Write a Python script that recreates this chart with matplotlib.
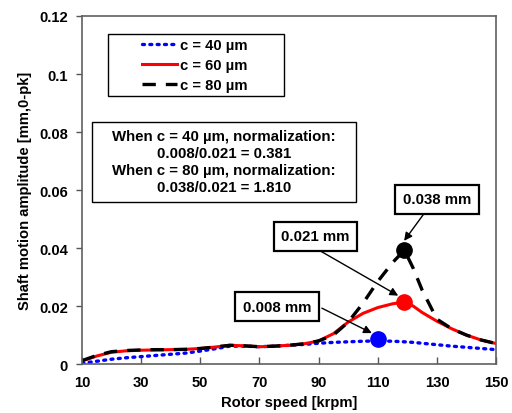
import matplotlib
matplotlib.use("Agg")
import matplotlib.pyplot as plt
from matplotlib.patches import Rectangle

plt.rcParams['font.family'] = ['Liberation Sans', 'DejaVu Sans']
plt.rcParams['font.weight'] = 'bold'

speed = [10, 15, 20, 25, 30, 35, 40, 45, 50, 55, 60, 65, 70, 75, 80, 85, 90,
         95, 100, 105, 110, 115, 119, 122, 125, 130, 135, 140, 145, 150]
amp_c40 = [0.0003, 0.0010, 0.0017, 0.0022, 0.0026, 0.0030, 0.0034, 0.0038, 0.0045,
           0.0053, 0.0062, 0.0062, 0.0060, 0.0062, 0.0065, 0.0068, 0.0072, 0.0075,
           0.0077, 0.0079, 0.0080, 0.0079, 0.0077, 0.0075, 0.0072, 0.0067, 0.0062,
           0.0058, 0.0054, 0.0050]
amp_c60 = [0.0011, 0.0028, 0.0041, 0.0046, 0.0048, 0.0049, 0.0050, 0.0051, 0.0054,
           0.0059, 0.0065, 0.0063, 0.0060, 0.0062, 0.0065, 0.0070, 0.0080, 0.0105,
           0.0145, 0.0175, 0.0195, 0.0208, 0.0214, 0.0200, 0.0178, 0.0148, 0.0122,
           0.0100, 0.0083, 0.0071]
amp_c80 = [0.0012, 0.0030, 0.0043, 0.0047, 0.0049, 0.0050, 0.0050, 0.0051, 0.0054,
           0.0059, 0.0065, 0.0063, 0.0060, 0.0062, 0.0065, 0.0070, 0.0080, 0.0100,
           0.0145, 0.0210, 0.0285, 0.0350, 0.0393, 0.0330, 0.0255, 0.0155, 0.0122,
           0.0100, 0.0083, 0.0071]
labels = ['c = 40 µm', 'c = 60 µm', 'c = 80 µm']
peak_x = [110, 119, 119]
peak_y = [0.0086, 0.0214, 0.0393]
peak_text = ['0.008 mm', '0.021 mm', '0.038 mm']
note_lines = ['When c = 40 µm, normalization:', '0.008/0.021 = 0.381',
              'When c = 80 µm, normalization:', '0.038/0.021 = 1.810']
xticks = [10, 30, 50, 70, 90, 110, 130, 150]
yticks = [0, 0.02, 0.04, 0.06, 0.08, 0.1, 0.12]
ytick_labels = ['0', '0.02', '0.04', '0.06', '0.08', '0.1', '0.12']

FS = 10.6
fig = plt.figure(figsize=(5.12, 4.14), dpi=100)
ax = fig.add_axes([0.160, 0.118, 0.809, 0.841])

l1, = ax.plot(speed, amp_c40, color='#0000ff', lw=2.4, linestyle=(0, (0.6, 1.6)),
              dash_capstyle='round', label=labels[0])
l2, = ax.plot(speed, amp_c60, color='#ff0000', lw=2.2, label=labels[1])
l3, = ax.plot(speed, amp_c80, color='black', lw=2.4, linestyle=(0, (4, 3)), label=labels[2])

colors = ['#0000ff', '#ff0000', 'black']
for x, y, c in zip(peak_x, peak_y, colors):
    ax.plot([x], [y], 'o', color=c, ms=11, zorder=5)

ax.set_xlim(10, 150)
ax.set_ylim(0, 0.12)
ax.set_xticks(xticks)
ax.set_yticks(yticks)
ax.set_yticklabels(ytick_labels)
ax.tick_params(axis='x', direction='in', length=5, width=1, labelsize=FS, pad=8, color='#555555')
ax.tick_params(axis='y', direction='out', length=4, width=1, labelsize=FS, pad=6, color='#555555')
for lab in ax.get_xticklabels() + ax.get_yticklabels():
    lab.set_fontweight('bold')
for s in ax.spines.values():
    s.set_color('#606060')
    s.set_linewidth(1.2)

ax.set_xlabel('Rotor speed [krpm]', fontsize=FS, fontweight='bold', labelpad=4)
ax.set_ylabel('Shaft motion amplitude [mm,0-pk]', fontsize=FS, fontweight='bold', labelpad=5)

# legend frame (drawn separately for wide horizontal padding)
ax.add_patch(Rectangle((0.0628, 0.770), 0.4255, 0.178, transform=ax.transAxes,
                       fc='white', ec='black', lw=1.0, zorder=8))
leg = ax.legend(handles=[l1, l2, l3], loc='center', bbox_to_anchor=(0.272, 0.859),
                frameon=False, handlelength=2.4, handletextpad=0.15, labelspacing=0.42,
                borderpad=0.2, prop={'weight': 'bold', 'size': FS})
leg.set_zorder(9)

# note box
ax.add_patch(Rectangle((0.0244, 0.4655), 0.6375, 0.2305, transform=ax.transAxes,
                       fc='white', ec='black', lw=1.0, zorder=8))
ax.text(0.343, 0.582, '\n'.join(note_lines), transform=ax.transAxes, ha='center', va='center',
        fontsize=10.8, fontweight='bold', linespacing=1.3, zorder=9)

box_pos = [(75.9, 0.0197), (89.0, 0.0441), (130.0, 0.0569)]
arrow_tail = [(91.1, 0.0193), (89.4, 0.0397), (126.0, 0.0524)]
arrow_head = [(108.0, 0.0107), (116.9, 0.0236), (118.9, 0.0425)]
for t, bp, tail, head in zip(peak_text, box_pos, arrow_tail, arrow_head):
    ax.annotate('', xy=head, xytext=tail,
                arrowprops=dict(arrowstyle='-|>', color='black', lw=1.0, mutation_scale=12,
                                shrinkA=0, shrinkB=0), zorder=6)
    ax.text(bp[0], bp[1], t, ha='center', va='center', fontsize=10.8, fontweight='bold',
            bbox=dict(boxstyle='square,pad=0.5', fc='white', ec='black', lw=1.6), zorder=7)

fig.savefig('out.png', dpi=100)
